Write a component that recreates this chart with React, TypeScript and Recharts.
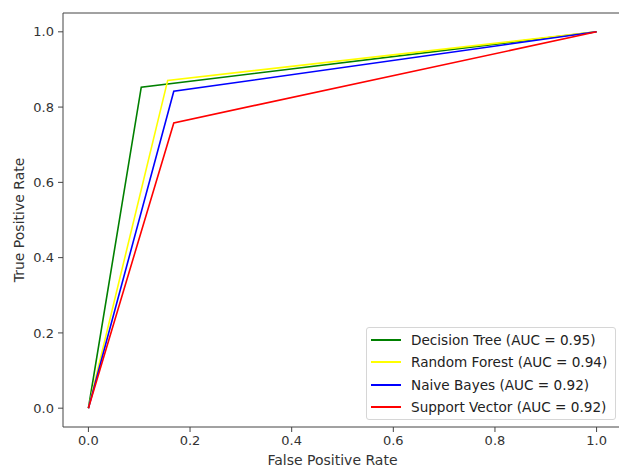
import React from 'react';
import {
  LineChart,
  Line,
  XAxis,
  YAxis,
  ReferenceArea,
} from 'recharts';

const models = ['Decision Tree', 'Random Forest', 'Naive Bayes', 'Support Vector'];
const aucs = [0.95, 0.94, 0.92, 0.92];
const colors = ['#008000', '#ffff00', '#0000ff', '#ff0000'];
const fprs = [
  [0, 0.104, 1],
  [0, 0.156, 1],
  [0, 0.168, 1],
  [0, 0.168, 1],
];
const tprs = [
  [0, 0.853, 1],
  [0, 0.871, 1],
  [0, 0.842, 1],
  [0, 0.758, 1],
];
const ticks = [0, 0.2, 0.4, 0.6, 0.8, 1.0];

const series = models.map((name, i) => ({
  name: `${name} (AUC = ${aucs[i].toFixed(2)})`,
  color: colors[i],
  points: fprs[i].map((x, j) => ({ fpr: x, tpr: tprs[i][j] })),
}));

const font = 'DejaVu Sans, sans-serif';

function RocLegend() {
  return (
    <div
      style={{
        position: 'absolute',
        left: 366,
        top: 327,
        border: '1px solid #d6d6d6',
        borderRadius: 3,
        background: 'rgba(255,255,255,0.8)',
        padding: '1px 8px 1px 4px',
        fontFamily: font,
        fontSize: 13.6,
        color: '#222',
      }}
    >
      {series.map((s) => (
        <div key={s.name} style={{ display: 'flex', alignItems: 'center', height: 22.3 }}>
          <span style={{ display: 'inline-block', width: 30, height: 2, background: s.color, marginRight: 10 }} />
          <span>{s.name}</span>
        </div>
      ))}
    </div>
  );
}

export default function App() {
  return (
    <div style={{ position: 'absolute', left: 0, top: 0, width: 619, height: 468, overflow: 'hidden', background: '#fff' }}>
      <LineChart width={640} height={468} margin={{ top: 13, right: 18, bottom: 0, left: 0 }}>
        <XAxis
          type="number"
          dataKey="fpr"
          domain={[-0.05, 1.05]}
          ticks={ticks}
          allowDataOverflow
          height={41}
          tickFormatter={(v: number) => v.toFixed(1)}
          axisLine={false}
          tickLine={{ stroke: '#444' }}
          tickSize={5}
          tick={{ fill: '#333', fontSize: 13, fontFamily: font, dy: 2 }}
          label={{ value: 'False Positive Rate', position: 'insideBottom', offset: 3, fill: '#333', fontSize: 14, fontFamily: font, dx: -10 }}
        />
        <YAxis
          type="number"
          domain={[-0.05, 1.05]}
          ticks={ticks}
          allowDataOverflow
          width={63}
          tickFormatter={(v: number) => v.toFixed(1)}
          axisLine={false}
          tickLine={{ stroke: '#444' }}
          tickSize={5}
          tick={{ fill: '#333', fontSize: 13, fontFamily: font, dx: -2 }}
          label={{ value: 'True Positive Rate', angle: -90, position: 'insideLeft', offset: 19, fill: '#333', fontSize: 14, fontFamily: font, style: { textAnchor: 'middle' } }}
        />
        <ReferenceArea x1={-0.05} x2={1.05} y1={-0.05} y2={1.05} fill="none" stroke="#444" strokeWidth={1} ifOverflow="visible" />
        {series.map((s) => (
          <Line
            key={s.name}
            data={s.points}
            dataKey="tpr"
            name={s.name}
            stroke={s.color}
            strokeWidth={1.6}
            dot={false}
            activeDot={false}
            isAnimationActive={false}
          />
        ))}
      </LineChart>
      <RocLegend />
    </div>
  );
}
